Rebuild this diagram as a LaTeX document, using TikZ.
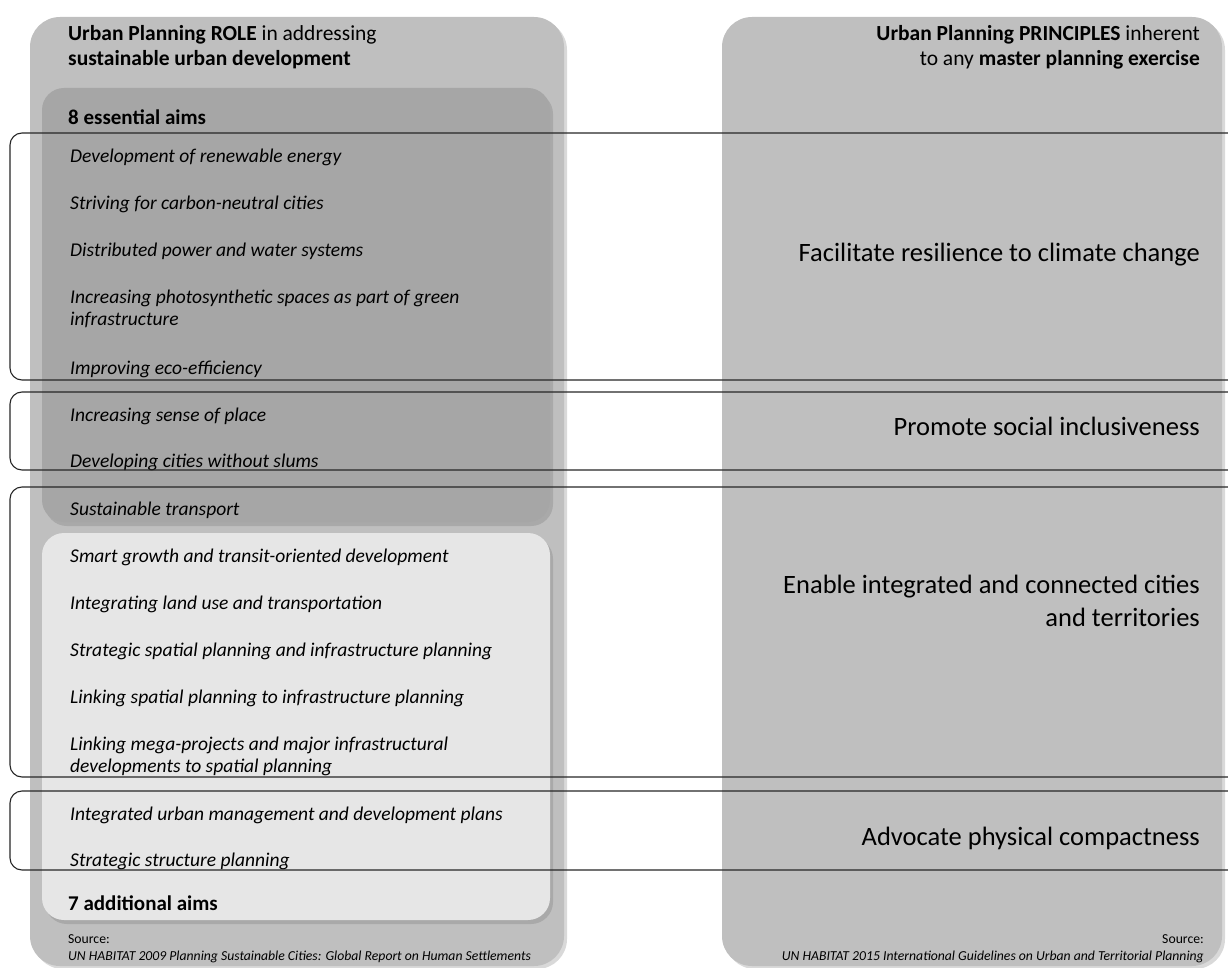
\documentclass[tikz,border=0pt]{standalone}
\usepackage{fontspec}
\setmainfont{Carlito}
\usetikzlibrary{shadows}
\definecolor{panelgray}{HTML}{BFBFBF}
\definecolor{essentgray}{HTML}{A6A6A6}
\definecolor{addgray}{HTML}{E6E6E6}

\begin{document}
\begin{tikzpicture}[x=1pt,y=-1pt,
    panel/.style={fill=panelgray,rounded corners=30pt,drop shadow={shadow xshift=3pt,shadow yshift=-3pt,opacity=.3}},
    aimbox/.style={rounded corners=22pt,drop shadow={shadow xshift=3pt,shadow yshift=-4pt,opacity=.35}},
    band/.style={draw=black!85,line width=1.1pt,rounded corners=12pt},
    item/.style={anchor=west,inner sep=0pt,align=left,font=\fontsize{19.5}{22}\selectfont\itshape},
    aimhead/.style={anchor=west,inner sep=0pt,font=\fontsize{21}{22}\selectfont\bfseries},
    principle/.style={anchor=east,inner sep=0pt,align=right,font=\fontsize{26.5}{33}\selectfont},
    source/.style={inner sep=0pt,font=\fontsize{13.7}{17}\selectfont}]
  \useasboundingbox (0,0) rectangle (1228,968);
  % the two columns
  \fill[panel] (30,17) rectangle (564,966);
  \fill[panel] (722,17) rectangle (1222,966);
  \fill[aimbox,essentgray] (42,88) rectangle (550,522);
  \fill[aimbox,addgray] (42,533) rectangle (550,920);
  % headers
  \node (rolehead) [anchor=west,inner sep=0pt,align=left,font=\fontsize{21.5}{25}\selectfont] at (68,47)
    {\textbf{Urban Planning ROLE} in addressing\\ \textbf{sustainable urban development}};
  \node (princhead) [anchor=east,inner sep=0pt,align=right,font=\fontsize{21.5}{25}\selectfont] at (1200,47)
    {\textbf{Urban Planning PRINCIPLES} inherent\\ to any \textbf{master planning exercise}};
  \node (essential) [aimhead] at (68,117) {8 essential aims};
  \node (additional) [aimhead] at (68,903) {7 additional aims};
  % aims
  \node (aimA) [item] at (70,157) {Development of renewable energy};
  \node (aimB) [item] at (70,204) {Striving for carbon-neutral cities};
  \node (aimC) [item] at (70,251) {Distributed power and water systems};
  \node (aimD) [item] at (70,309) {Increasing photosynthetic spaces as part of green\\ infrastructure};
  \node (aimE) [item] at (70,369) {Improving eco-efficiency};
  \node (aimF) [item] at (70,416) {Increasing sense of place};
  \node (aimG) [item] at (70,462) {Developing cities without slums};
  \node (aimH) [item] at (70,510) {Sustainable transport};
  \node (aimI) [item] at (70,557) {Smart growth and transit-oriented development};
  \node (aimJ) [item] at (70,604) {Integrating land use and transportation};
  \node (aimK) [item] at (70,651) {Strategic spatial planning and infrastructure planning};
  \node (aimL) [item] at (70,698) {Linking spatial planning to infrastructure planning};
  \node (aimM) [item] at (70,756) {Linking mega-projects and major infrastructural\\ developments to spatial planning};
  \node (aimN) [item] at (70,815) {Integrated urban management and development plans};
  \node (aimO) [item] at (70,861) {Strategic structure planning};
  % bands linking aims to principles
  \draw[band] (10,133) rectangle (1240,380);
  \draw[band] (10,392) rectangle (1240,470);
  \draw[band] (10,487) rectangle (1240,777);
  \draw[band] (10,791) rectangle (1240,870);
  \node (resilience) [principle] at (1200,255) {Facilitate resilience to climate change};
  \node (inclusive) [principle] at (1200,426) {Promote social inclusiveness};
  \node (integrated) [principle] at (1200,601) {Enable integrated and connected cities\\ and territories};
  \node (compact) [principle] at (1200,838) {Advocate physical compactness};
  % sources
  \node (srcleft) [source,anchor=west,align=left] at (68,949)
    {Source:\\ \textit{UN HABITAT 2009 Planning Sustainable Cities: Global Report on Human Settlements}};
  \node (srcright) [source,anchor=east,align=right] at (1204,949)
    {Source:\\ \textit{UN HABITAT 2015 International Guidelines on Urban and Territorial Planning}};
\end{tikzpicture}
\end{document}
